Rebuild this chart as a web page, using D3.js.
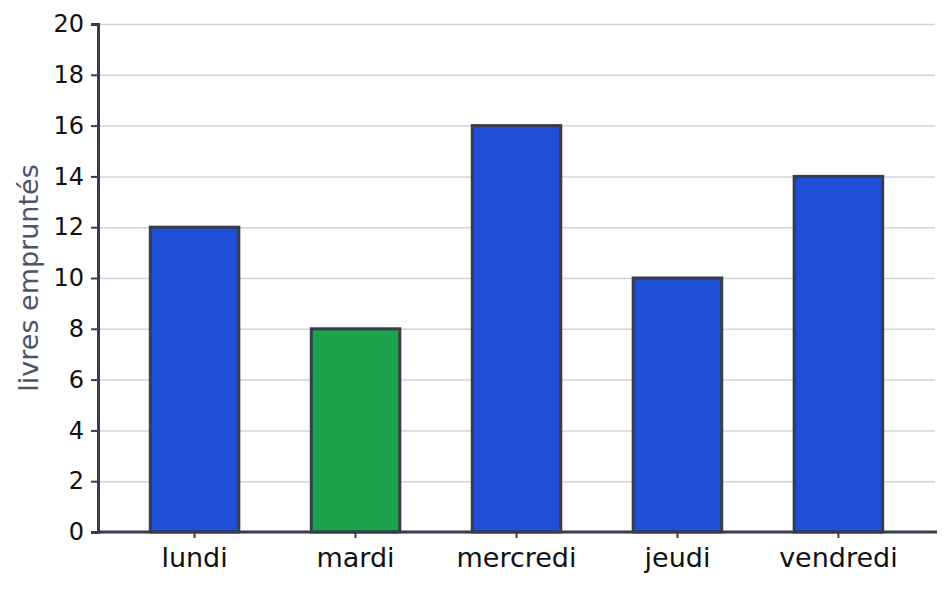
<!DOCTYPE html>
<meta charset="utf-8">
<style>
body { margin: 0; background: #fff; }
.grid line { stroke: #d1d4da; stroke-width: 1.5; }
.grid path { display: none; }
.axis text { font-family: "DejaVu Sans", sans-serif; fill: #111; }
.y-axis text { font-size: 24px; }
.x-axis text { font-size: 27px; }
.axis path, .axis line { stroke: #373d4d; }
.bar { stroke: #373d4d; stroke-width: 3; }
.y-label { font-family: "DejaVu Sans", sans-serif; font-size: 27px; fill: #4b5468; }
</style>
<svg width="950" height="589"></svg>
<script src="https://d3js.org/d3.v7.min.js"></script>
<script>

var days = ["lundi", "mardi", "mercredi", "jeudi", "vendredi"];
var books = [12, 8, 16, 10, 14];
var barColors = ["#1f4fd6", "#1aa34a", "#1f4fd6", "#1f4fd6", "#1f4fd6"];
var yTicks = [0, 2, 4, 6, 8, 10, 12, 14, 16, 18, 20];

var svg = d3.select("svg"),
    margin = {top: 24, right: 15, bottom: 57, left: 98},
    width = +svg.attr("width") - margin.left - margin.right,
    height = +svg.attr("height") - margin.top - margin.bottom;

var g = svg.append("g")
    .attr("transform", "translate(" + margin.left + "," + margin.top + ")");

var x = d3.scaleBand()
    .domain(days)
    .range([0, width])
    .paddingInner(0.45)
    .paddingOuter(0.325);

var y = d3.scaleLinear()
    .domain([0, 20])
    .range([height, 0]);

// gridlines
g.append("g")
    .attr("class", "grid")
    .call(d3.axisLeft(y).tickValues(yTicks).tickSize(-width).tickFormat(""));

// bars
g.selectAll(".bar")
  .data(books)
  .enter().append("rect")
    .attr("class", "bar")
    .attr("x", function(d, i) { return x(days[i]); })
    .attr("y", function(d) { return y(d); })
    .attr("width", x.bandwidth())
    .attr("height", function(d) { return height - y(d); })
    .attr("fill", function(d, i) { return barColors[i]; });

// axes
var yAxis = g.append("g")
    .attr("class", "axis y-axis")
    .call(d3.axisLeft(y).tickValues(yTicks).tickSize(7).tickPadding(7));
yAxis.select(".domain").attr("stroke-width", 3);
yAxis.selectAll(".tick line").attr("stroke-width", 2);

var xAxis = g.append("g")
    .attr("class", "axis x-axis")
    .attr("transform", "translate(0," + height + ")")
    .call(d3.axisBottom(x).tickSize(6).tickPadding(10).tickSizeOuter(0));
xAxis.select(".domain").attr("stroke-width", 3).attr("d", "M0,0H" + (width + 2));
xAxis.selectAll(".tick line").attr("stroke-width", 2);

// y label
svg.append("text")
    .attr("class", "y-label")
    .attr("transform", "translate(38," + (margin.top + height / 2) + ") rotate(-90)")
    .attr("text-anchor", "middle")
    .text("livres empruntés");

</script>
